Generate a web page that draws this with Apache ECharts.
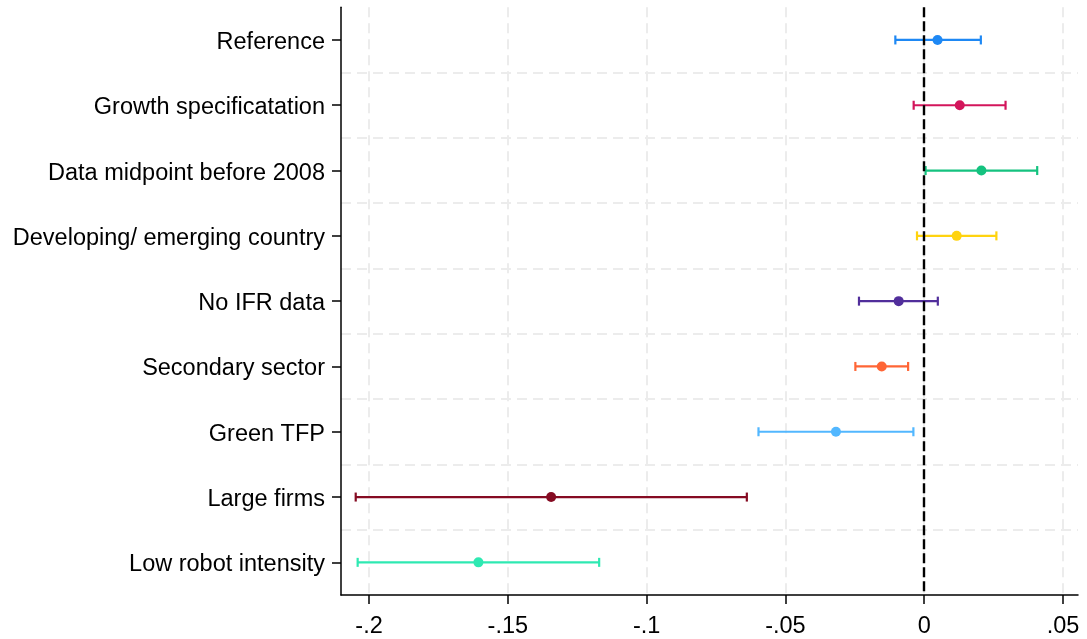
<!DOCTYPE html>
<html>
<head>
<meta charset="utf-8">
<script src="https://cdn.jsdelivr.net/npm/echarts@6/dist/echarts.min.js"></script>
<style>
html,body{margin:0;padding:0;background:#fff;}
#chart{width:1087px;height:639px;}
</style>
</head>
<body>
<div id="chart"></div>
<script>
const categories = ["Reference","Growth specificatation","Data midpoint before 2008","Developing/ emerging country","No IFR data","Secondary sector","Green TFP","Large firms","Low robot intensity"];
const estimates = [0.0048, 0.0128, 0.0206, 0.0117, -0.0092, -0.0153, -0.0318, -0.1344, -0.1606];
const lower = [-0.0104, -0.0038, 0.0005, -0.0026, -0.0235, -0.0248, -0.0597, -0.2048, -0.2041];
const upper = [0.0204, 0.0293, 0.0407, 0.0260, 0.0049, -0.0058, -0.0039, -0.0639, -0.1171];
const colors = ["#1e88f4","#d3155b","#14c27f","#ffd30f","#512e9b","#ff6535","#52b7ff","#850b22","#2ee9b2"];
const xTickValues = [-0.2, -0.15, -0.1, -0.05, 0, 0.05];
const xTickLabels = ["-.2", "-.15", "-.1", "-.05", "0", ".05"];

const chart = echarts.init(document.getElementById('chart'));
const font = '"Liberation Sans", Arial, sans-serif';

const barData = categories.map((c, i) => [lower[i], upper[i], i]);
const pointData = categories.map((c, i) => ({value: [estimates[i], i], itemStyle: {color: colors[i], opacity: 1}}));

chart.setOption({
  animation: false,
  backgroundColor: '#fff',
  grid: {left: 341, right: 9, top: 7.3, bottom: 43.3, containLabel: false},
  xAxis: {
    type: 'value',
    min: -0.2101,
    max: 0.0554,
    axisLine: {show: true, onZero: false, lineStyle: {color: '#000', width: 1.5}},
    axisTick: {show: true, length: 9, customValues: xTickValues, lineStyle: {color: '#000', width: 1.5}},
    axisLabel: {
      customValues: xTickValues,
      margin: 20,
      fontFamily: font, fontSize: 23.5, color: '#000',
      formatter: v => {
        const k = xTickValues.findIndex(t => Math.abs(t - v) < 1e-9);
        return k >= 0 ? xTickLabels[k] : '';
      }
    },
    splitLine: {show: true, lineStyle: {color: '#ececec', width: 2, type: [10, 6]}}
  },
  yAxis: {
    type: 'category',
    inverse: true,
    data: categories,
    boundaryGap: true,
    axisLine: {show: true, onZero: false, lineStyle: {color: '#000', width: 1.5}},
    axisTick: {show: true, alignWithLabel: true, length: 9, lineStyle: {color: '#000', width: 1.5}},
    axisLabel: {margin: 16, verticalAlign: 'top', lineHeight: 5, fontFamily: font, fontSize: 23.5, color: '#000'},
    splitLine: {show: true, showMinLine: false, showMaxLine: false, lineStyle: {color: '#ececec', width: 2, type: [10, 6]}}
  },
  series: [
    {
      type: 'custom',
      z: 2,
      data: barData,
      encode: {x: [0, 1], y: 2},
      renderItem: (params, api) => {
        const i = api.value(2);
        const p1 = api.coord([api.value(0), i]);
        const p2 = api.coord([api.value(1), i]);
        const h = 4.5;
        const st = {stroke: colors[params.dataIndex], lineWidth: 2.2};
        return {
          type: 'group',
          children: [
            {type: 'line', shape: {x1: p1[0], y1: p1[1], x2: p2[0], y2: p2[1]}, style: st},
            {type: 'line', shape: {x1: p1[0], y1: p1[1] - h, x2: p1[0], y2: p1[1] + h}, style: st},
            {type: 'line', shape: {x1: p2[0], y1: p2[1] - h, x2: p2[0], y2: p2[1] + h}, style: st}
          ]
        };
      }
    },
    {
      type: 'line',
      z: 3,
      data: [],
      markLine: {
        silent: true,
        symbol: ['none', 'none'],
        label: {show: false},
        lineStyle: {color: '#000', width: 2.4, type: [10, 4]},
        data: [{xAxis: 0}]
      }
    },
    {
      type: 'scatter',
      z: 4,
      symbol: 'circle',
      symbolSize: 10,
      itemStyle: {opacity: 1},
      data: pointData
    }
  ]
});
</script>
</body>
</html>
